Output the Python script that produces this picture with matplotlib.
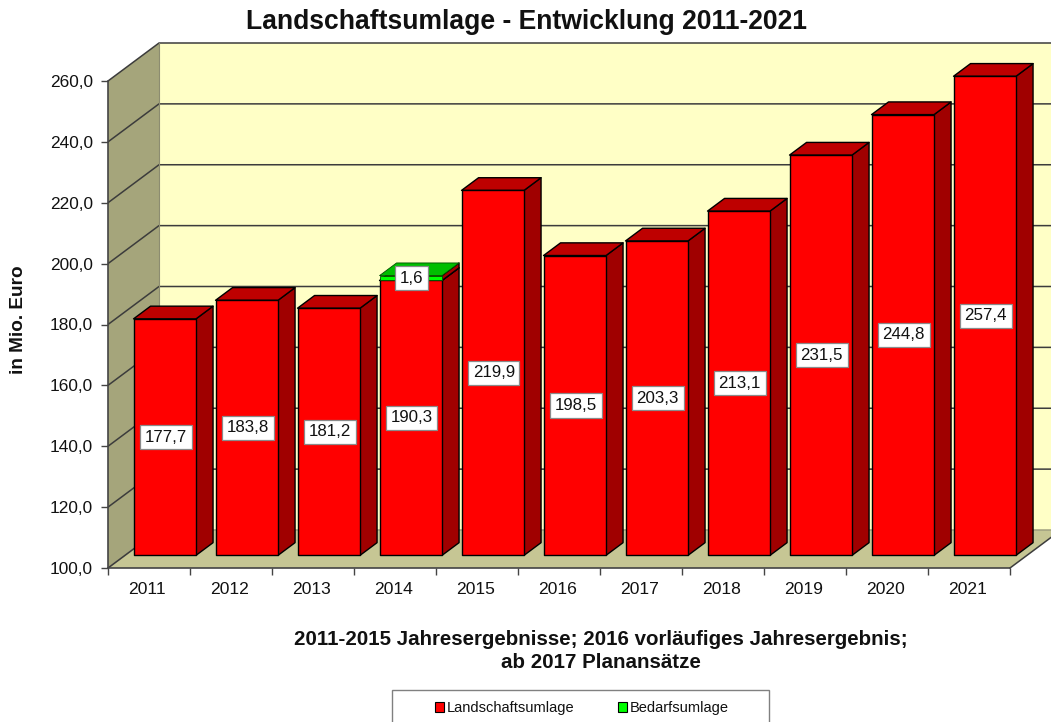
import matplotlib
matplotlib.use("Agg")
import matplotlib.pyplot as plt
from matplotlib.patches import Polygon, Rectangle, Patch

plt.rcParams['font.family'] = ['Liberation Sans', 'DejaVu Sans']

years = ['2011','2012','2013','2014','2015','2016','2017','2018','2019','2020','2021']
landschaft = [177.7,183.8,181.2,190.3,219.9,198.5,203.3,213.1,231.5,244.8,257.4]
bedarf = [0,0,0,1.6,0,0,0,0,0,0,0]
y_ticks = [100,120,140,160,180,200,220,240,260]
y_labels = ['100,0','120,0','140,0','160,0','180,0','200,0','220,0','240,0','260,0']

W, H = 1051, 722
fig = plt.figure(figsize=(W/100, H/100), dpi=100, facecolor='white')
L, R, B, T = 108, 1010, 568, 81
ax = fig.add_axes([L/W, 1-B/H, (R-L)/W, (B-T)/H])
ax.set_xlim(0, 11); ax.set_ylim(100, 260)
ax.patch.set_visible(False)

px_x = 11/(R-L); px_y = 160/(B-T)
DX, DY = 51*px_x, 38*px_y
bw = 62.5*px_x
shift = -1.2*px_x

def poly(pts, fc, ec='none', lw=0, z=1):
    ax.add_patch(Polygon(pts, closed=True, fc=fc, ec=ec, lw=lw, zorder=z, clip_on=False, joinstyle='round'))

ymin, ymax = 100, 260
wall, side, floor = '#FFFFC6', '#A5A57B', '#C6C694'
grid = '#3c3c3c'
xe = 11 + DX
poly([(DX,ymin+DY),(xe,ymin+DY),(xe,ymax+DY),(DX,ymax+DY)], wall, z=1)
poly([(0,ymin),(DX,ymin+DY),(DX,ymax+DY),(0,ymax)], side, z=1)
poly([(0,ymin),(11,ymin),(xe,ymin+DY),(DX,ymin+DY)], floor, z=1)
for v in y_ticks:
    c = '#a0a080' if v == ymin else grid
    ax.plot([0, DX, xe], [v, v+DY, v+DY], color=c, lw=1.1, zorder=2, clip_on=False, solid_capstyle='butt')
    if v == ymin:
        ax.plot([0, DX], [v, v+DY], color=grid, lw=1.1, zorder=2, clip_on=False)
        ax.plot([11, xe], [v, v+DY], color=grid, lw=1.1, zorder=2, clip_on=False)
ax.plot([DX, DX], [ymin+DY, ymax+DY], color='#8c8c70', lw=0.8, zorder=2, clip_on=False)

def box(x0, v0, v1, front, top, sidec, ec='black', lw=1.0):
    x1 = x0 + bw
    dx, dy = DX/3, DY/3
    b0, b1 = v0 + dy, v1 + dy
    kw = dict(ec=ec, lw=lw, z=3)
    poly([(x1,b0),(x1+dx,b0+dy),(x1+dx,b1+dy),(x1,b1)], sidec, ec='black', lw=1.0, z=3)
    poly([(x0,b1),(x1,b1),(x1+dx,b1+dy),(x0+dx,b1+dy)], top, **kw)
    poly([(x0,b0),(x1,b0),(x1,b1),(x0,b1)], front, **kw)

label_style = dict(ha='center', va='center', fontsize=12.2, color='#111111', zorder=6, clip_on=False,
                   bbox=dict(boxstyle='square,pad=0.27', fc='white', ec='#8a8a8a', lw=0.9))
for i, (a, b) in enumerate(zip(landschaft, bedarf)):
    x0 = i + (1 - bw)/2 + DX/3 + shift
    box(x0, ymin, a, '#FF0000', '#BE0000', '#A00000')
    if b > 0:
        box(x0, a, a+b, '#00FF00', '#00BE00', '#A00000', ec='#005000', lw=0.6)
for i, (a, b) in enumerate(zip(landschaft, bedarf)):
    x0 = i + (1 - bw)/2 + DX/3 + shift
    xc = x0 + bw/2 + px_x
    ax.text(xc, ymin + DY/3 + (a-ymin)/2, f'{a:.1f}'.replace('.', ','), **label_style)
    if b > 0:
        ax.text(xc, a + DY/3 + b/2, f'{b:.1f}'.replace('.', ','), **label_style)

for s in ['top', 'right']:
    ax.spines[s].set_visible(False)
for s in ['left', 'bottom']:
    ax.spines[s].set_color('#444444'); ax.spines[s].set_linewidth(1.2); ax.spines[s].set_zorder(5)
ax.set_yticks(y_ticks); ax.set_yticklabels(y_labels, fontsize=12.4, color='#111111')
ax.tick_params(axis='y', length=5, width=1, color='#444444', pad=6)
ax.set_xticks(range(12)); ax.set_xticklabels([])
ax.set_xticks([i+0.48 for i in range(11)], minor=True)
ax.set_xticklabels(years, minor=True, fontsize=12.6, color='#111111')
ax.tick_params(axis='x', which='major', length=5, width=1, color='#444444')
ax.tick_params(axis='x', which='minor', length=0, pad=10)

fig.text(527/W, 1-22/H, 'Landschaftsumlage - Entwicklung 2011-2021', ha='center', va='center',
         fontsize=19.1, fontweight='bold', color='#111111')
fig.text(19/W, 1-320/H, 'in Mio. Euro', rotation=90, ha='center', va='center',
         fontsize=13.7, fontweight='bold', color='#111111')
fig.text(601/W, 1-651/H, '2011-2015 Jahresergebnisse; 2016 vorläufiges Jahresergebnis;\nab 2017 Planansätze',
         ha='center', va='center', fontsize=14.8, fontweight='bold', color='#111111', linespacing=1.25)

fig.add_artist(Rectangle((392/W, -0.02), 377/W, 0.02+1-690/H, transform=fig.transFigure,
                         fc='white', ec='#808080', lw=1))
handles = [Patch(fc='#FF0000', ec='black', lw=0.8, label='Landschaftsumlage'),
           Patch(fc='#00FF00', ec='black', lw=0.8, label='Bedarfsumlage')]
fig.legend(handles=handles, ncol=2, frameon=False, loc='center', bbox_to_anchor=(582/W, 1-708/H),
           fontsize=10.5, handlelength=0.6, handleheight=0.65, handletextpad=0.25, columnspacing=2.95,
           labelcolor='#111111', borderpad=0, borderaxespad=0)

fig.savefig('out.png', dpi=100, facecolor='white')
